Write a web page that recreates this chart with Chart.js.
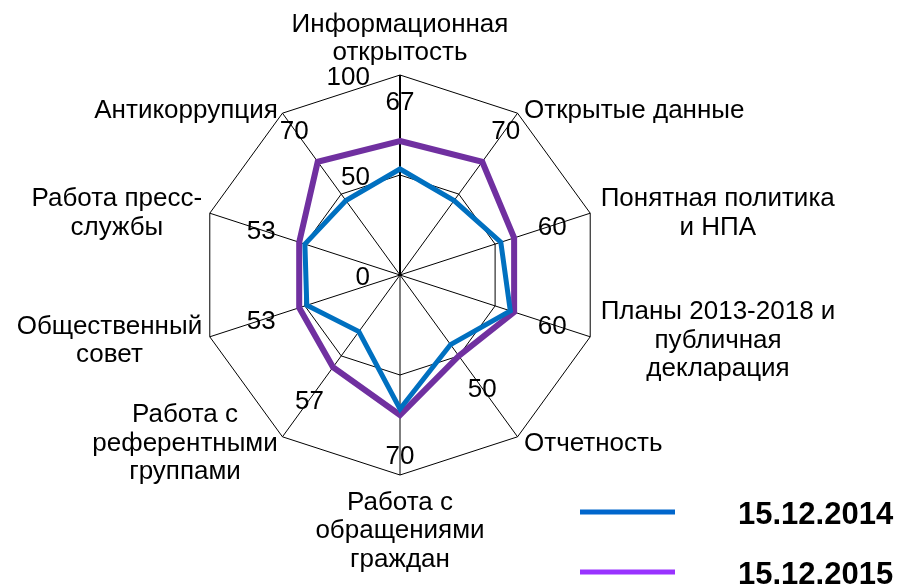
<!DOCTYPE html>
<html>
<head>
<meta charset="utf-8">
<script src="https://cdn.jsdelivr.net/npm/chart.js@4"></script>
<style>
  body { margin: 0; background: #fff; }
  canvas { display: block; }
</style>
</head>
<body>
<canvas id="myChart" width="901" height="585"></canvas>
<script>
// данные
var categories = [
    ['Информационная', 'открытость'],
    ['Открытые данные'],
    ['Понятная политика', 'и НПА'],
    ['Планы 2013-2018 и', 'публичная', 'декларация'],
    ['Отчетность'],
    ['Работа с', 'обращениями', 'граждан'],
    ['Работа с', 'референтными', 'группами'],
    ['Общественный', 'совет'],
    ['Работа пресс-', 'службы'],
    ['Антикоррупция']
];
var seriesNames = ['15.12.2014', '15.12.2015'];
var values2014 = [53, 46, 53, 58, 43, 67, 35, 49, 50, 46];
var values2015 = [67, 70, 60, 60, 50, 70, 57, 53, 53, 70];
var tickValues = [0, 50, 100];

var FONT = '26px "Liberation Sans", Arial, sans-serif';
var CAP = 18.4;    // высота прописных
var LINE = 28.4;   // межстрочный интервал
var lineColors = ['#0070C0', '#7030A0'];
var legendColors = ['#0066CC', '#9933FF'];

// подписи осей, значений, шкалы и легенда
var textPlugin = {
    id: 'radarText',
    afterDraw: function (chart) {
        var scale = chart.scales.r;
        var ctx = chart.ctx;
        ctx.save();
        ctx.fillStyle = '#000';
        ctx.font = FONT;
        ctx.textBaseline = 'alphabetic';
        ctx.textAlign = 'center';

        categories.forEach(function (lines, i) {
            var p = scale.getPointPosition(i, scale.drawingArea);
            var a = scale.getIndexAngle(i);
            var s = Math.sin(a), c = Math.cos(a);
            var w = Math.max.apply(null, lines.map(function (t) { return ctx.measureText(t).width; }));
            var h = CAP + (lines.length - 1) * LINE;
            var cx, top;
            if (Math.abs(s) < 0.01) {
                cx = p.x;
                top = c > 0 ? p.y - 15 - h : p.y + 35 - CAP;
            } else {
                var left = s > 0 ? p.x + 11 * s : p.x - 8 * Math.abs(s) - w;
                cx = left + w / 2;
                top = p.y - 6 * c - h / 2;
            }
            lines.forEach(function (t, k) {
                ctx.fillText(t, cx, top + CAP + k * LINE);
            });
        });

        // значения 2015
        values2015.forEach(function (v, i) {
            var p = scale.getPointPosition(i, scale.getDistanceFromCenterForValue(v) + 40);
            ctx.fillText(String(v), p.x, p.y + CAP / 2);
        });

        // шкала
        ctx.textAlign = 'right';
        tickValues.forEach(function (v) {
            var y = scale.yCenter - scale.getDistanceFromCenterForValue(v);
            ctx.fillText(String(v), scale.xCenter - 30, y + 10);
        });

        // легенда
        ctx.font = 'bold 31px "Liberation Sans", Arial, sans-serif';
        ctx.textAlign = 'left';
        seriesNames.forEach(function (name, i) {
            var y = 512 + i * 60;
            ctx.strokeStyle = legendColors[i];
            ctx.lineWidth = 5;
            ctx.beginPath();
            ctx.moveTo(580, y);
            ctx.lineTo(675, y);
            ctx.stroke();
            ctx.fillText(name, 738, y + 11.5);
        });
        ctx.restore();
    }
};

var ctx = document.getElementById('myChart').getContext('2d');
var myChart = new Chart(ctx, {
    type: 'radar',
    data: {
        labels: categories.map(function (l) { return l.join(' '); }),
        datasets: [{
            label: seriesNames[0],
            data: values2014,
            borderColor: lineColors[0],
            borderWidth: 5,
            backgroundColor: 'transparent',
            fill: false,
            pointRadius: 0
        }, {
            label: seriesNames[1],
            data: values2015,
            borderColor: lineColors[1],
            borderWidth: 6,
            backgroundColor: 'transparent',
            fill: false,
            pointRadius: 0
        }]
    },
    options: {
        responsive: false,
        animation: false,
        plugins: {
            legend: { display: false },
            tooltip: { enabled: false }
        },
        scales: {
            r: {
                min: 0,
                max: 100,
                ticks: { display: false, stepSize: 50 },
                grid: { color: '#000', lineWidth: 1 },
                angleLines: {
                    color: '#000',
                    lineWidth: function (c) { return c.index === 0 ? 2 : 1; }
                },
                pointLabels: { display: false },
                afterSetDimensions: function (s) {
                    s.xCenter = 400;
                    s.yCenter = 275;
                    s.drawingArea = 200;
                }
            }
        }
    },
    plugins: [textPlugin]
});
</script>
</body>
</html>
